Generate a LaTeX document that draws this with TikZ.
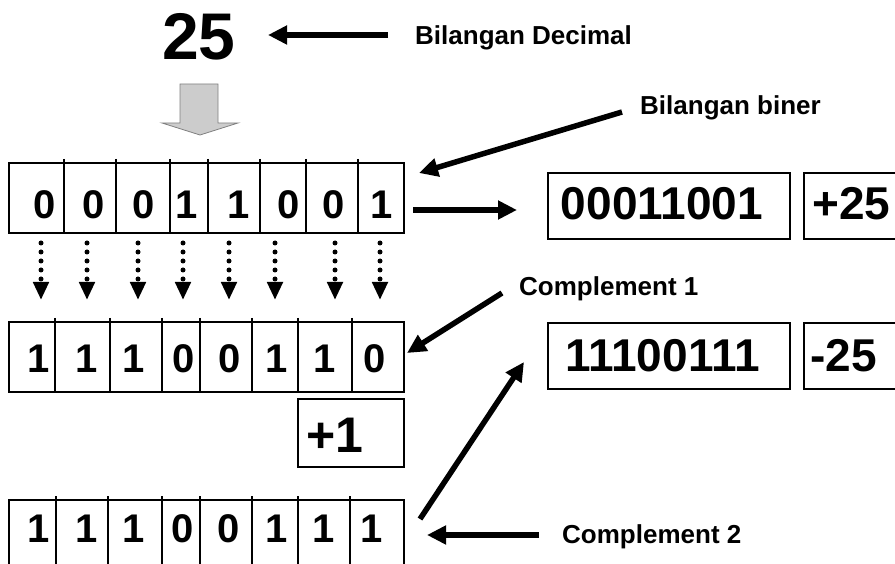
\documentclass[tikz,border=0pt]{standalone}
\usepackage{fontspec}
\setmainfont{Liberation Sans}
\definecolor{blockGray}{RGB}{204,204,204}
\usetikzlibrary{arrows.meta, positioning}

\begin{document}
\begin{tikzpicture}[x=1pt, y=-1pt,
    bit/.style={font=\fontsize{40}{42}\selectfont\bfseries, anchor=base, inner sep=0pt},
    num/.style={font=\fontsize{46}{48}\selectfont\bfseries, anchor=base, inner sep=0pt},
    lbl/.style={font=\fontsize{26}{28}\selectfont\bfseries, anchor=base west, inner sep=0pt},
    rowbox/.style={draw, line width=1.8pt, minimum width=395pt, minimum height=70pt, inner sep=0pt},
    numbox/.style={draw, line width=1.8pt, minimum height=66pt, inner sep=0pt},
    bigarrow/.style={line width=5.5pt, -{Triangle[length=19pt, width=18pt]}},
    dotarrow/.style={line width=5pt, line cap=round, dash pattern=on 0pt off 9pt, -{Triangle[length=18pt, width=15pt]}}]
    \useasboundingbox (0,0) rectangle (895,564);
    \clip (0,0) rectangle (895,564);

    % Decimal number
    \node[font=\fontsize{66}{68}\selectfont\bfseries, anchor=base, inner sep=0pt] (dec) at (199,60) {25};
    \node[lbl] (declbl) at (415,45) {Bilangan Decimal};
    \filldraw[fill=blockGray, draw=gray, line width=0.8pt] (180,84) -- (218,84) -- (218,123) -- (238,123)
      -- (200,135) -- (162,123) -- (180,123) -- cycle;

    % Bit rows
    \node[rowbox] (row1) at (206.5,198) {};
    \node[rowbox] (row2) at (206.5,357) {};
    \node[rowbox] (row3) at (206.5,535) {};
    \foreach \x in {64,116,170,208,260,306,358} \draw[line width=1.4pt] (\x,159) -- (\x,233);
    \foreach \x in {55,110,162,200,252,298,352} \draw[line width=1.4pt] (\x,318) -- (\x,392);
    \foreach \x in {56,108,162,200,252,298,350} \draw[line width=1.4pt] (\x,496) -- (\x,570);
    \foreach \x/\d [count=\i] in {45/0, 93.5/0, 143.5/0, 187/1, 238.5/1, 288.5/0, 334/0, 381.5/1}
      \node[bit] (a\i) at (\x,219) {\d};
    \foreach \x/\d [count=\i] in {38.5/1, 86.5/1, 134/1, 183.5/0, 230/0, 276.5/1, 324.5/1, 375/0}
      \node[bit] (b\i) at (\x,372) {\d};
    \foreach \x/\d [count=\i] in {38.5/1, 86.5/1, 134/1, 182.5/0, 228.5/0, 276.5/1, 323.5/1, 371.5/1}
      \node[bit] (c\i) at (\x,542) {\d};

    % Inversion arrows
    \foreach \x in {41,87,138,183,229,275,335,380} \draw[dotarrow] (\x,243) -- (\x,300);

    % Plus one
    \node[numbox, minimum width=106pt, minimum height=68pt] (plus) at (351,433) {};
    \node[font=\fontsize{50}{52}\selectfont\bfseries, anchor=base west, inner sep=0pt] (plustxt) at (306,452) {+1};

    % Results
    \node[numbox, minimum width=242pt] (posbin) at (669,206) {};
    \node[num] (posbintxt) at (662,220) {00011001};
    \node[numbox, minimum width=106pt] (posdec) at (857,206) {};
    \node[num, anchor=base west] (posdectxt) at (812,220) {+25};
    \node[numbox, minimum width=242pt] (negbin) at (669,356) {};
    \node[num] (negbintxt) at (662.5,371) {11100111};
    \node[numbox, minimum width=106pt] (negdec) at (857,356) {};
    \node[num, anchor=base west] (negdectxt) at (810,371) {-25};

    % Labels
    \node[lbl] (binlbl) at (640,115) {Bilangan biner};
    \node[lbl] (c1lbl) at (519,296) {Complement 1};
    \node[lbl] (c2lbl) at (562,543) {Complement 2};

    % Arrows
    \coordinate (decS) at (388,35);  \coordinate (decE) at (268,35);
    \coordinate (binS) at (622,112); \coordinate (binE) at (419,173);
    \coordinate (posS) at (413,210); \coordinate (posE) at (517,210);
    \coordinate (c1S) at (502,293);  \coordinate (c1E) at (407,353);
    \coordinate (negS) at (420,519); \coordinate (negE) at (524,362);
    \coordinate (c2S) at (539,535);  \coordinate (c2E) at (427,535);
    \foreach \s in {dec,bin,pos,c1,neg,c2} \draw[bigarrow] (\s S) -- (\s E);
\end{tikzpicture}
\end{document}
